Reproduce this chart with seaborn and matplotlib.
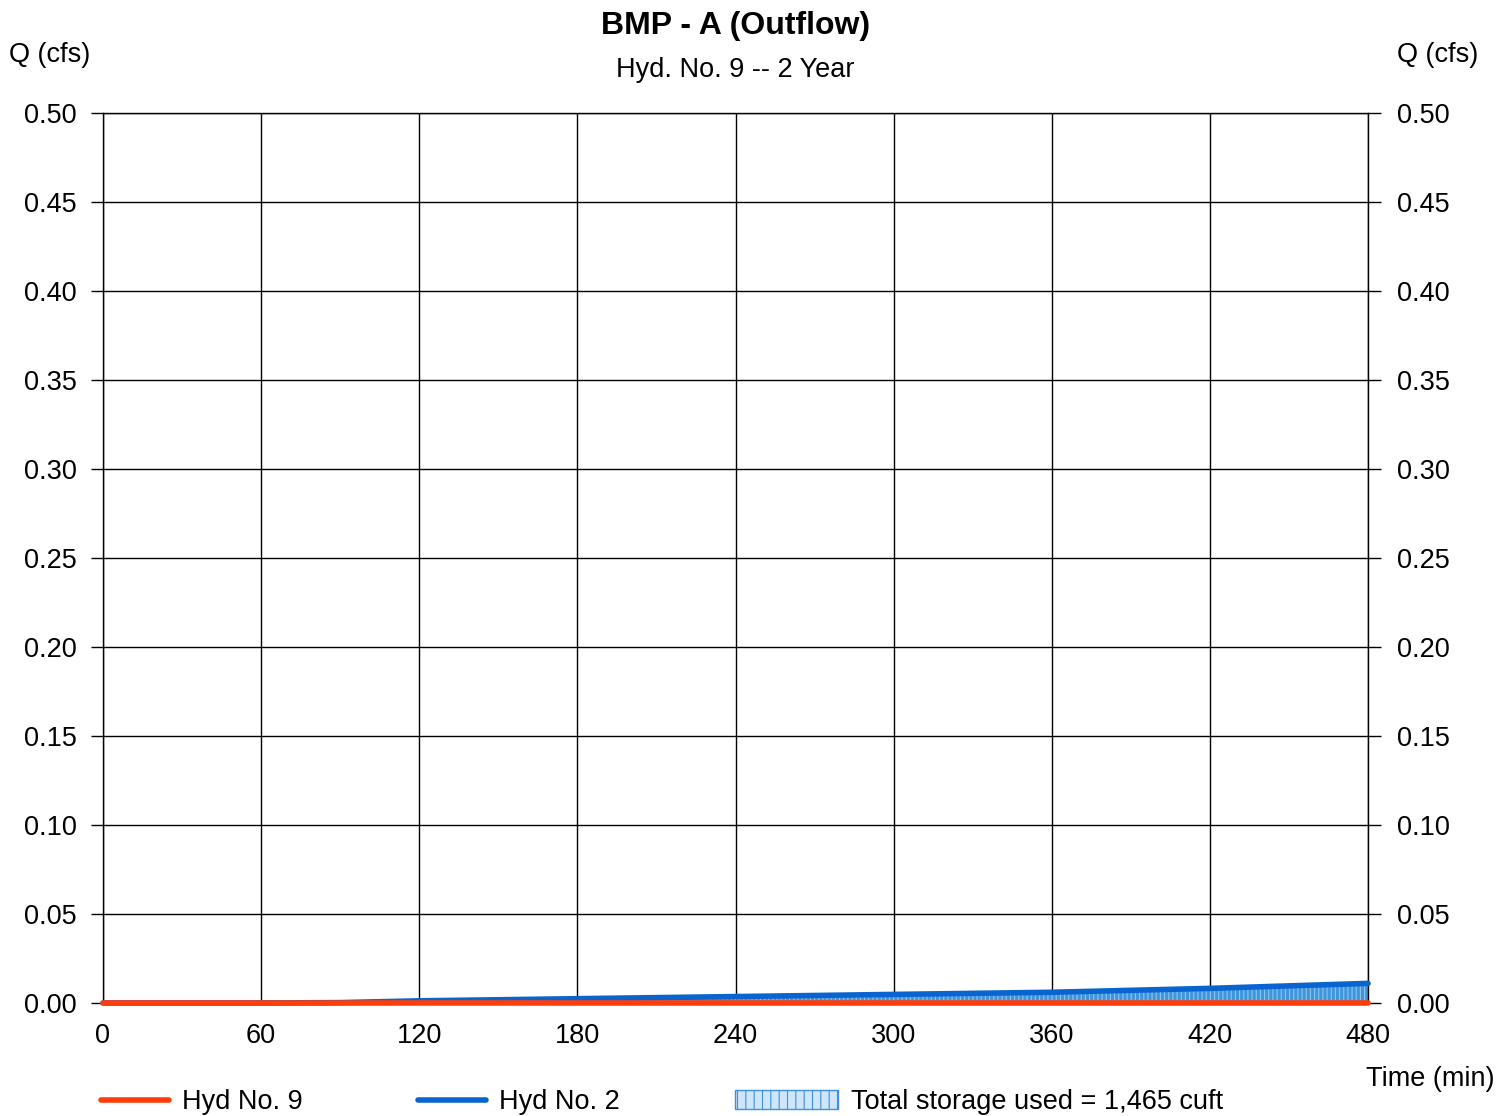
import matplotlib
matplotlib.use("Agg")
import matplotlib.pyplot as plt
import matplotlib.patches as mpatches
import matplotlib.transforms as mtransforms
from matplotlib.lines import Line2D
import seaborn as sns
import pandas as pd
import numpy as np

# hydrograph values
time_min = [0, 60, 90, 120, 180, 240, 300, 360, 420, 480]
hyd9_q = [0, 0, 0, 0, 0, 0, 0, 0, 0, 0]
hyd2_q = [0.0, 0.0, 0.0002, 0.0012, 0.0024, 0.0036, 0.0048, 0.006, 0.0082, 0.011]
x_ticks = [0, 60, 120, 180, 240, 300, 360, 420, 480]
y_ticks = [0.00, 0.05, 0.10, 0.15, 0.20, 0.25, 0.30, 0.35, 0.40, 0.45, 0.50]

df = pd.DataFrame({"time": time_min, "hyd9": hyd9_q, "hyd2": hyd2_q})

sns.set_style("white")
plt.rcParams["font.family"] = ["Liberation Sans", "DejaVu Sans"]
plt.rcParams["text.color"] = "black"
plt.rcParams["hatch.linewidth"] = 0.8

FS = 19.5
fig = plt.figure(figsize=(15.1, 11.16), dpi=100)
ax = fig.add_axes([0.0682, 0.1013, 0.906 - 0.0682, 0.8987 - 0.1013])

# storage fill between inflow and outflow
ax.fill_between(df["time"], df["hyd9"], df["hyd2"], facecolor="#3f95dc",
                edgecolor="#8cc4f0", hatch="||||", linewidth=0, zorder=2)
sns.lineplot(data=df, x="time", y="hyd2", color="#0a64d0", linewidth=4, ax=ax, zorder=3)
sns.lineplot(data=df, x="time", y="hyd9", color="#ff3c0a", linewidth=4, ax=ax, zorder=4)
for ln in ax.lines:
    ln.set_clip_on(False)

ax.set_xlim(0, 480)
ax.set_ylim(0, 0.5)
ax.set_xticks(x_ticks)
ax.set_yticks(y_ticks)
ax.set_yticklabels([f"{v:.2f}" for v in y_ticks])
ax.grid(True, color="black", linewidth=1)
ax.set_xlabel("")
ax.set_ylabel("")
for s in ax.spines.values():
    s.set_color("black")
    s.set_linewidth(1)
ax.tick_params(axis="y", which="both", left=True, right=True, labelleft=True, labelright=True,
               direction="out", length=9, width=1, labelsize=FS, pad=10, colors="black")
ax.tick_params(axis="x", bottom=False, labelsize=FS, pad=11, colors="black")

# right-hand labels sit a little further from their ticks
shift = mtransforms.ScaledTranslation(3 / 100, 0, fig.dpi_scale_trans)
for tick in ax.yaxis.get_major_ticks():
    tick.label2.set_transform(tick.label2.get_transform() + shift)

fig.text(0.487, 0.977, "BMP - A (Outflow)", ha="center", va="center", fontsize=23, fontweight="bold")
fig.text(0.487, 0.937, "Hyd. No. 9 -- 2 Year", ha="center", va="center", fontsize=FS)
fig.text(0.033, 0.951, "Q (cfs)", ha="center", va="center", fontsize=FS)
fig.text(0.952, 0.951, "Q (cfs)", ha="center", va="center", fontsize=FS)
fig.text(0.947, 0.0335, "Time (min)", ha="center", va="center", fontsize=FS)

# legend entries placed one by one so each can have its own handle width
legend_items = [
    (Line2D([0], [0], color="#ff3c0a", linewidth=4), "Hyd No. 9", 101, 2.5),
    (Line2D([0], [0], color="#0a64d0", linewidth=4), "Hyd No. 2", 418, 2.5),
    (mpatches.Patch(facecolor="#cfe6fa", edgecolor="#3d8fe0", hatch="||"),
     "Total storage used = 1,465 cuft", 735, 3.8),
]
for handle, label, xpix, hl in legend_items:
    fig.legend([handle], [label], loc="center left", bbox_to_anchor=(xpix / 1510, 0.0125),
               frameon=False, fontsize=FS, handlelength=hl, handletextpad=0.5,
               borderpad=0, borderaxespad=0)

fig.savefig("out.png", dpi=100)
